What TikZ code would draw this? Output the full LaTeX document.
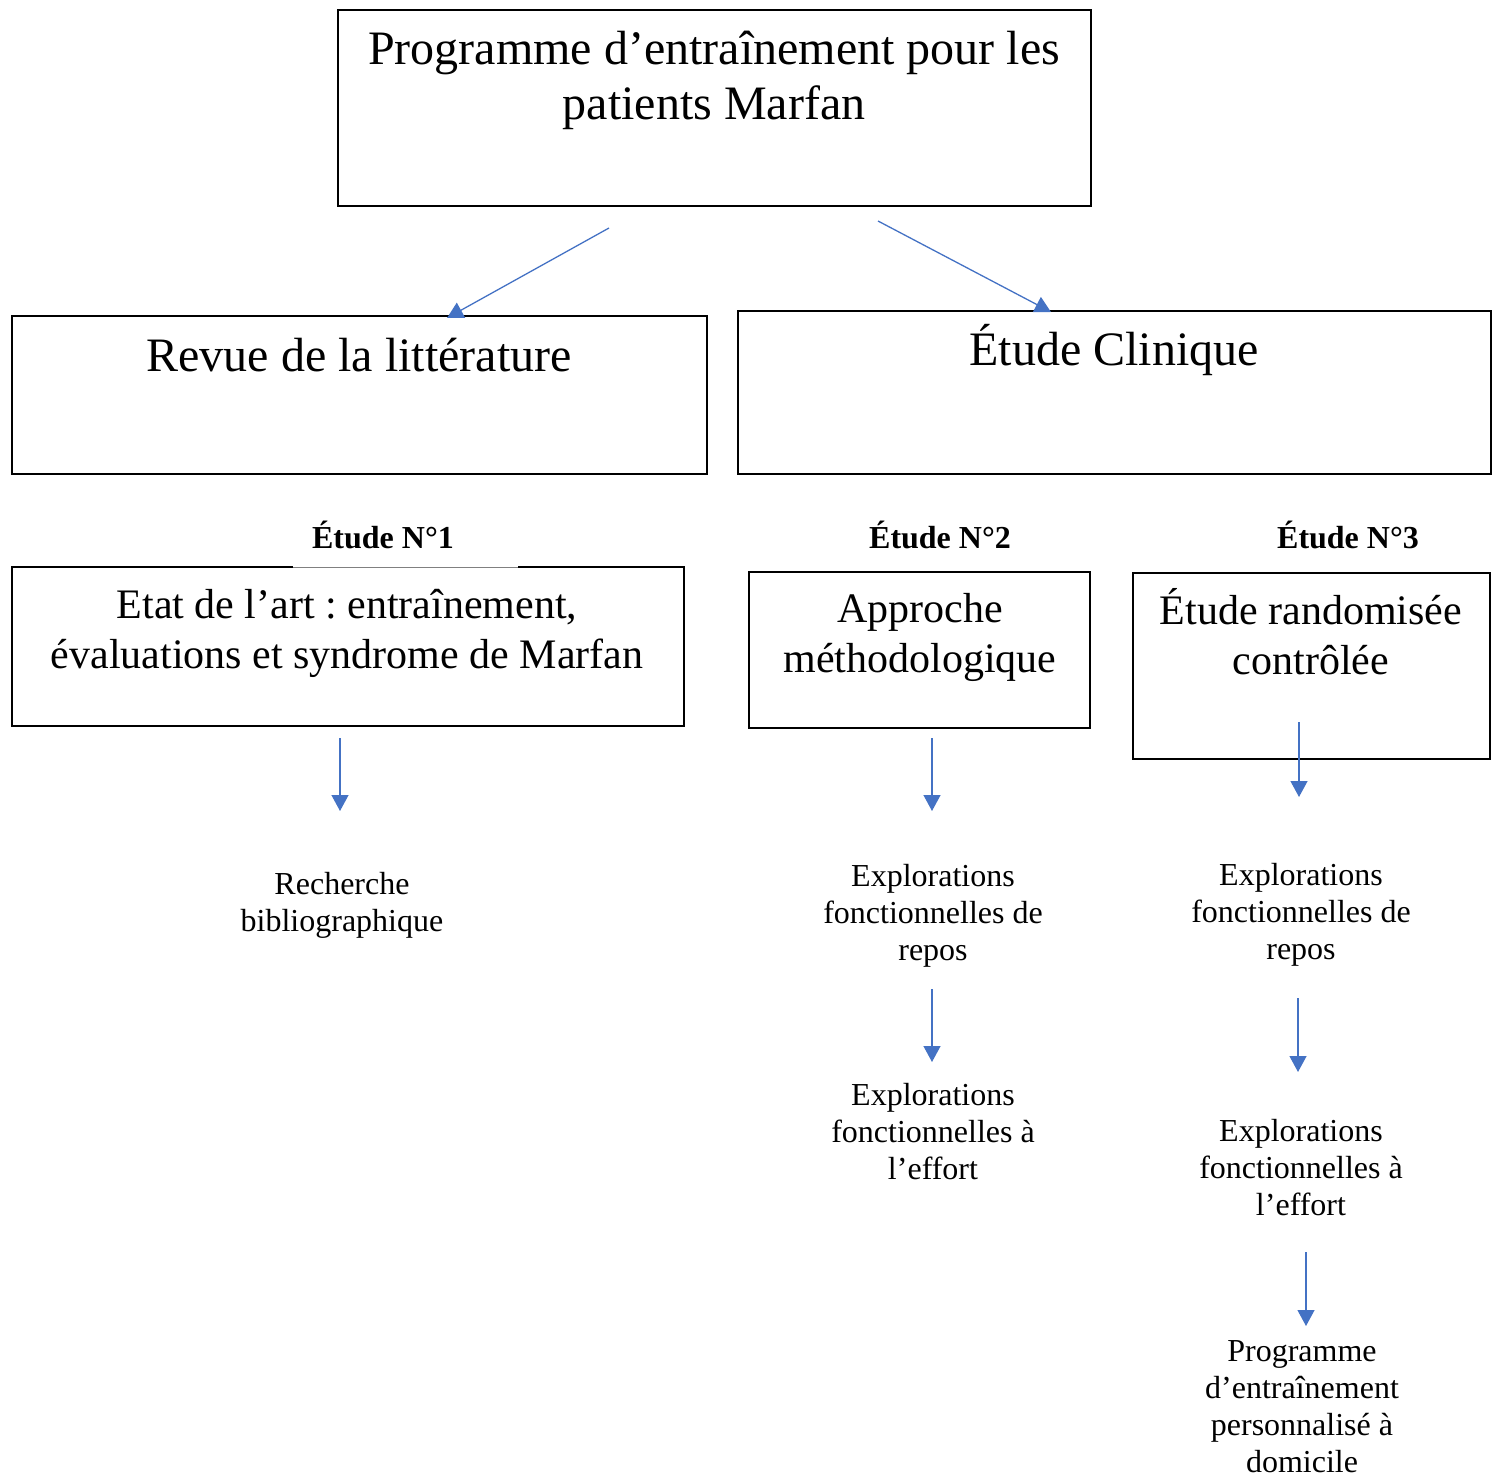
\documentclass[tikz,border=0pt]{standalone}
\usepackage{fontspec}
\setmainfont{Liberation Serif}
\usetikzlibrary{arrows.meta}
\definecolor{arrowblue}{HTML}{4472C4}
\frenchspacing
\begin{document}
\begin{tikzpicture}[x=1pt,y=-1pt,
  box/.style={draw=black, line width=1.2pt, inner sep=0pt},
  big/.style={font=\fontsize{48}{55}\selectfont, align=center, inner sep=0pt},
  mid/.style={font=\fontsize{42}{50}\selectfont, align=center, inner sep=0pt},
  small/.style={font=\fontsize{32}{37}\selectfont, align=center, inner sep=0pt},
  tag/.style={font=\fontsize{32}{37}\selectfont\bfseries, inner sep=0pt},
  flow/.style={draw=arrowblue, line width=1.3pt, -{Triangle[width=17pt,length=16pt]}}]
\useasboundingbox (0,0) rectangle (1494,1479);

% boxes
\node[box, minimum width=753, minimum height=196] (topbox) at (714.5,108) {};
\node[box, minimum width=695, minimum height=158] (revuebox) at (359.5,395) {};
\node[box, minimum width=753, minimum height=163] (clinbox) at (1114.5,392.5) {};
\node[box, minimum width=672, minimum height=159] (etatbox) at (348,646.5) {};
\node[box, minimum width=341, minimum height=156] (apprbox) at (919.5,650) {};
\node[box, minimum width=357, minimum height=186] (randbox) at (1311.5,666) {};

% gap under "Étude N°1"
\fill[white] (293,564) rectangle (518,571);
\draw[gray, line width=1pt] (293,567.5) -- (518,567.5);

% box texts
\node[big] (toptext) at (714,80) {Programme d’entraînement pour les\\patients Marfan};
\node[big] (revuetext) at (359,355) {Revue de la littérature};
\node[big] (clintext) at (1114,350) {Étude Clinique};
\node[mid] (etattext) at (347,633) {Etat de l’art : entraînement,\\évaluations et syndrome de Marfan};
\node[mid] (apprtext) at (920,637) {Approche\\méthodologique};
\node[mid] (randtext) at (1311,632) {Étude randomisée\\contrôlée};

% study tags
\node[tag] (tag1) at (383,535) {Étude N°1};
\node[tag] (tag2) at (940,535) {Étude N°2};
\node[tag] (tag3) at (1348,535) {Étude N°3};

% free texts
\node[small] (biblio) at (342,905) {Recherche\\bibliographique};
\node[small] (repos2) at (933,916) {Explorations\\fonctionnelles de\\repos};
\node[small] (effort2) at (933,1132) {Explorations\\fonctionnelles à\\l’effort};
\node[small] (repos3) at (1301,915) {Explorations\\fonctionnelles de\\repos};
\node[small] (effort3) at (1301,1168) {Explorations\\fonctionnelles à\\l’effort};
\node[small] (prog3) at (1302,1407) {Programme\\d’entraînement\\personnalisé à\\domicile};

% arrow end points
\coordinate (a1s) at (609,228); \coordinate (a1e) at (447,318);
\coordinate (a2s) at (878,221); \coordinate (a2e) at (1051,312);
\coordinate (a3s) at (340,738); \coordinate (a3e) at (340,811);
\coordinate (a4s) at (932,738); \coordinate (a4e) at (932,811);
\coordinate (a5s) at (1299,722); \coordinate (a5e) at (1299,797);
\coordinate (a6s) at (932,989); \coordinate (a6e) at (932,1062);
\coordinate (a7s) at (1298,998); \coordinate (a7e) at (1298,1072);
\coordinate (a8s) at (1306,1252); \coordinate (a8e) at (1306,1326);

\draw[flow] (a1s) -- (a1e);
\draw[flow] (a2s) -- (a2e);
\draw[flow] (a3s) -- (a3e);
\draw[flow] (a4s) -- (a4e);
\draw[flow] (a5s) -- (a5e);
\draw[flow] (a6s) -- (a6e);
\draw[flow] (a7s) -- (a7e);
\draw[flow] (a8s) -- (a8e);
\end{tikzpicture}
\end{document}
